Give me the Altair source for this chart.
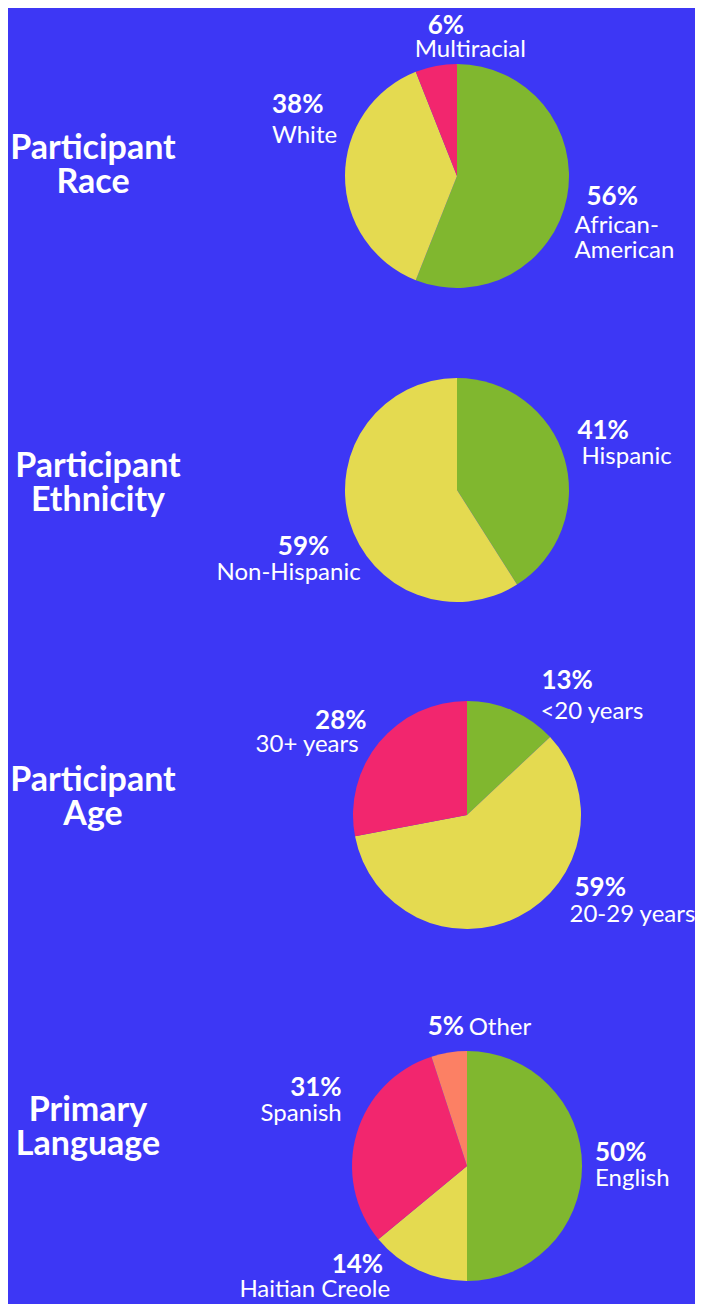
import altair as alt
import pandas as pd

# ---------------- data ----------------
race_labels = ["African-American", "White", "Multiracial"]
race_values = [56, 38, 6]

eth_labels = ["Hispanic", "Non-Hispanic"]
eth_values = [41, 59]

age_labels = ["<20 years", "20-29 years", "30+ years"]
age_values = [13, 59, 28]

lang_labels = ["English", "Haitian Creole", "Spanish", "Other"]
lang_values = [50, 14, 31, 5]

titles = ["Participant\nRace", "Participant\nEthnicity", "Participant\nAge", "Primary\nLanguage"]

# ---------------- style / layout ----------------
BG = "#3D37F5"
PALETTE = ["#80B72F", "#E4DA50", "#F2266E", "#FC8064"]
FONT = "Lato"
PCT_SIZE = 26
NAME_SIZE = 24
TITLE_SIZE = 34

# per pie: center, radius, label radius, title position, label offsets
# label offsets: (align, pct_dx, pct_dy, name_dx, name_dy, wrap)
PIES = [
    dict(labels=race_labels, values=race_values, title=titles[0],
         cx=449, cy=168, r=112, R=140, tx=85, ty=151,
         lab=[("left", -8, 3, -20, 31, True),
              ("left", -45, -63, -45, -33, False),
              ("left", -3, -4, -16, 19, False)]),
    dict(labels=eth_labels, values=eth_values, title=titles[1],
         cx=449, cy=482, r=112, R=140, tx=90, ty=469,
         lab=[("left", -14, -12, -10, 13, False),
              ("center", -19, 26, -34, 51, False)]),
    dict(labels=age_labels, values=age_values, title=titles[2],
         cx=459, cy=807, r=114, R=142, tx=85, ty=783,
         lab=[("left", 18, 4, 17, 34, False),
              ("left", 43, -46, 38, -20, False),
              ("right", 9, 5, 1, 28, False)]),
    dict(labels=lang_labels, values=lang_values, title=titles[3],
         cx=459, cy=1158, r=115, R=143, tx=80, ty=1113,
         lab=[("left", -15, -5, -15, 20, False),
              ("right", -23, -22, -16, 2, False),
              ("right", 12, -30, 12, -5, False),
              ("left", -17, 10, 24, 10, False)]),
]

theta_scale = alt.Scale(domain=[0, 100])
color_enc = alt.Color("idx:O", scale=alt.Scale(domain=[0, 1, 2, 3], range=PALETTE), legend=None)

layers = []
for p in PIES:
    df = pd.DataFrame({"idx": list(range(len(p["labels"]))),
                       "label": p["labels"], "value": p["values"]})
    base = (
        alt.Chart(df)
        .transform_window(cum="sum(value)", sort=[alt.SortField("idx")], frame=[None, 0])
        .transform_calculate(start="datum.cum - datum.value",
                             mid="datum.cum - datum.value / 2",
                             pct="datum.value + '%'")
    )
    arcs = base.mark_arc(radius=p["r"]).encode(
        x=alt.value(p["cx"]), y=alt.value(p["cy"]),
        theta=alt.Theta("start:Q", stack=False, scale=theta_scale),
        theta2="cum:Q",
        color=color_enc,
    )
    layers.append(arcs)

    for i, (align, pdx, pdy, ndx, ndy, wrap) in enumerate(p["lab"]):
        sub = base.transform_filter(f"datum.idx == {i}")
        if wrap:
            sub = sub.transform_calculate(name="replace(datum.label, '-', '-\\n')")
        else:
            sub = sub.transform_calculate(name="datum.label")
        common = dict(x=alt.value(p["cx"]), y=alt.value(p["cy"]),
                      theta=alt.Theta("mid:Q", stack=False, scale=theta_scale))
        pct = sub.mark_text(radius=p["R"], dx=pdx, dy=pdy, align=align,
                            baseline="alphabetic", font=FONT, fontWeight="bold",
                            fontSize=PCT_SIZE, color="white").encode(text="pct:N", **common)
        name = sub.mark_text(radius=p["R"], dx=ndx, dy=ndy, align=align,
                             baseline="alphabetic", font=FONT, fontWeight="normal",
                             fontSize=NAME_SIZE, color="white", lineBreak="\n",
                             lineHeight=25).encode(text="name:N", **common)
        layers += [pct, name]

    tdf = pd.DataFrame({"t": [p["title"]]})
    title = alt.Chart(tdf).mark_text(
        align="center", baseline="alphabetic", font=FONT, fontWeight="bold",
        fontSize=TITLE_SIZE, color="white", lineBreak="\n", lineHeight=34,
    ).encode(x=alt.value(p["tx"]), y=alt.value(p["ty"]), text="t:N")
    layers.append(title)

chart = (
    alt.layer(*layers)
    .properties(width=687, height=1296, background=BG, autosize="none", padding=0)
    .configure_view(stroke=None)
)

chart.save("out.html", embed_options={"renderer": "svg", "actions": False})
